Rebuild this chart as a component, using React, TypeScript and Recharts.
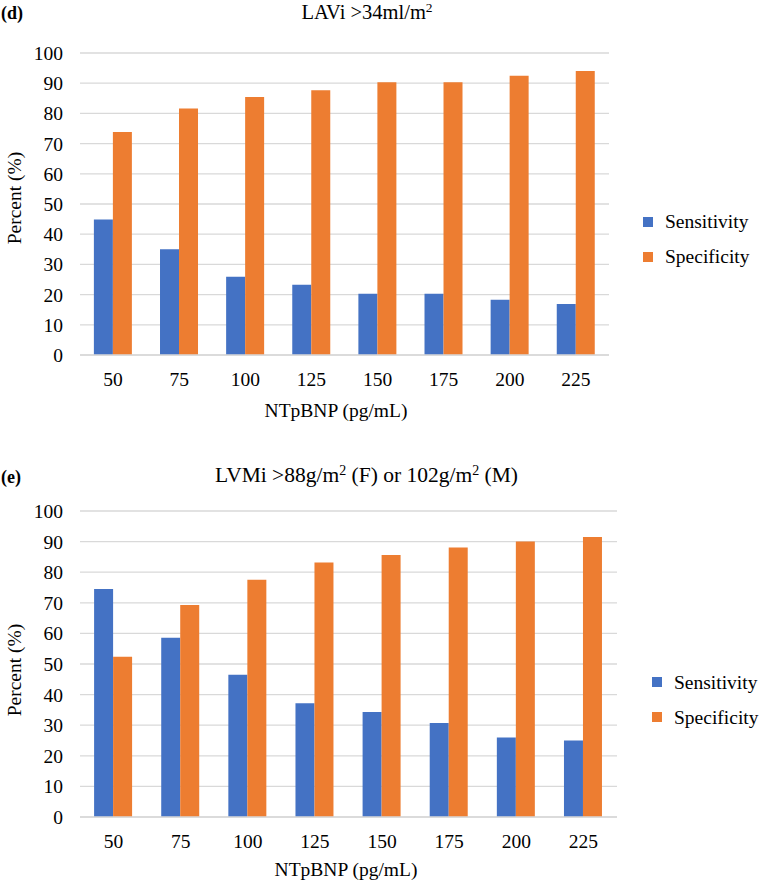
import React from 'react';
import { BarChart, Bar, XAxis, YAxis, CartesianGrid, Legend, Label } from 'recharts';

const categories = ['50', '75', '100', '125', '150', '175', '200', '225'];
const lavSensitivity = [44.9, 35.0, 25.9, 23.3, 20.3, 20.3, 18.3, 16.9];
const lavSpecificity = [73.8, 81.6, 85.4, 87.7, 90.3, 90.3, 92.5, 94.0];
const lvmSensitivity = [74.5, 58.6, 46.5, 37.2, 34.3, 30.7, 26.0, 25.0];
const lvmSpecificity = [52.4, 69.3, 77.5, 83.2, 85.6, 88.1, 90.0, 91.5];
const yTicks = [0, 10, 20, 30, 40, 50, 60, 70, 80, 90, 100];
const seriesNames = ['Sensitivity', 'Specificity'];
const xTitle = 'NTpBNP (pg/mL)';
const yTitle = 'Percent (%)';

const lavData = categories.map((c, i) => ({ threshold: c, sensitivity: lavSensitivity[i], specificity: lavSpecificity[i] }));
const lvmData = categories.map((c, i) => ({ threshold: c, sensitivity: lvmSensitivity[i], specificity: lvmSpecificity[i] }));

const FONT = "'Liberation Serif', 'Times New Roman', serif";
const BLUE = '#4472C4';
const ORANGE = '#ED7D31';
const GRID = '#d9d9d9';

const LegendContent = (props: any) => {
  const payload = props.payload || [];
  return (
    <div style={{ fontFamily: FONT }}>
      {payload.map((entry: any) => (
        <div key={entry.value} style={{ display: 'flex', alignItems: 'center', height: 35 }}>
          <span style={{ width: 10, height: 10, background: entry.color, marginRight: 12, display: 'inline-block' }} />
          <span style={{ fontSize: 19.5, lineHeight: '35px', color: '#000', fontFamily: FONT }}>{entry.value}</span>
        </div>
      ))}
    </div>
  );
};

type PanelProps = {
  data: any[];
  height: number;
  marginTop: number;
  marginRight: number;
  marginBottom: number;
  xAxisHeight: number;
  xTitleX: number;
  yTitleY: number;
  legendLeft: number;
  legendTop: number;
};

const Panel = (p: PanelProps) => (
  <BarChart
    width={761}
    height={p.height}
    data={p.data}
    margin={{ top: p.marginTop, right: p.marginRight, bottom: p.marginBottom, left: 0 }}
    barCategoryGap="21%"
    barGap={0}
    style={{ fontFamily: FONT }}
  >
    <CartesianGrid vertical={false} stroke={GRID} strokeWidth={1.3} />
    <XAxis
      dataKey="threshold"
      height={p.xAxisHeight}
      interval={0}
      tickLine={false}
      tickSize={0}
      tickMargin={17}
      axisLine={{ stroke: GRID, strokeWidth: 1.3 }}
      tick={{ fontSize: 19.5, fill: '#000', style: { fontFamily: FONT } }}
      label={
        <Label
          content={() => (
            <text x={p.xTitleX} y={p.height - p.marginBottom} textAnchor="middle" fontSize={19.5} fill="#000" style={{ fontFamily: FONT }}>
              {xTitle}
            </text>
          )}
        />
      }
    />
    <YAxis
      width={80}
      domain={[0, 100]}
      ticks={yTicks}
      interval={0}
      axisLine={false}
      tickLine={false}
      tickSize={0}
      tickMargin={17}
      tick={{ fontSize: 19.5, fill: '#000', style: { fontFamily: FONT } }}
      label={
        <Label
          content={() => (
            <text transform={`translate(21,${p.yTitleY}) rotate(-90)`} textAnchor="middle" fontSize={19.5} fill="#000" style={{ fontFamily: FONT }}>
              {yTitle}
            </text>
          )}
        />
      }
    />
    <Legend
      layout="vertical"
      align="center"
      verticalAlign="middle"
      content={<LegendContent />}
      wrapperStyle={{ left: p.legendLeft, top: p.legendTop, width: 'auto', height: 'auto' }}
    />
    <Bar dataKey="sensitivity" name={seriesNames[0]} fill={BLUE} isAnimationActive={false} />
    <Bar dataKey="specificity" name={seriesNames[1]} fill={ORANGE} isAnimationActive={false} />
  </BarChart>
);

export default function App() {
  return (
    <div style={{ position: 'absolute', left: 0, top: 0, width: 761, height: 886, background: '#fff', fontFamily: FONT }}>
      <div style={{ position: 'absolute', left: 0, top: 0 }}>
        <Panel
          data={lavData}
          height={430}
          marginTop={53}
          marginRight={152}
          marginBottom={13}
          xAxisHeight={62}
          xTitleX={336}
          yTitleY={198}
          legendLeft={643}
          legendTop={204}
        />
      </div>
      <div style={{ position: 'absolute', left: 0, top: 440 }}>
        <Panel
          data={lvmData}
          height={446}
          marginTop={71}
          marginRight={144}
          marginBottom={10}
          xAxisHeight={59}
          xTitleX={346}
          yTitleY={230}
          legendLeft={652}
          legendTop={224.5}
        />
      </div>
      <svg width={761} height={886} style={{ position: 'absolute', left: 0, top: 0, pointerEvents: 'none', fontFamily: FONT }}>
        <text x={1} y={18.5} fontSize={18} fontWeight="bold" fill="#000">(d)</text>
        <text x={367} y={18.7} fontSize={20.5} textAnchor="middle" fill="#000">
          LAVi &gt;34ml/m<tspan baselineShift="super" fontSize={13.5}>2</tspan>
        </text>
        <text x={1} y={483} fontSize={18} fontWeight="bold" fill="#000">(e)</text>
        <text x={366.5} y={482} fontSize={21.5} textAnchor="middle" fill="#000">
          LVMi &gt;88g/m<tspan baselineShift="super" fontSize={14}>2</tspan> (F) or 102g/m<tspan baselineShift="super" fontSize={14}>2</tspan> (M)
        </text>
      </svg>
    </div>
  );
}
